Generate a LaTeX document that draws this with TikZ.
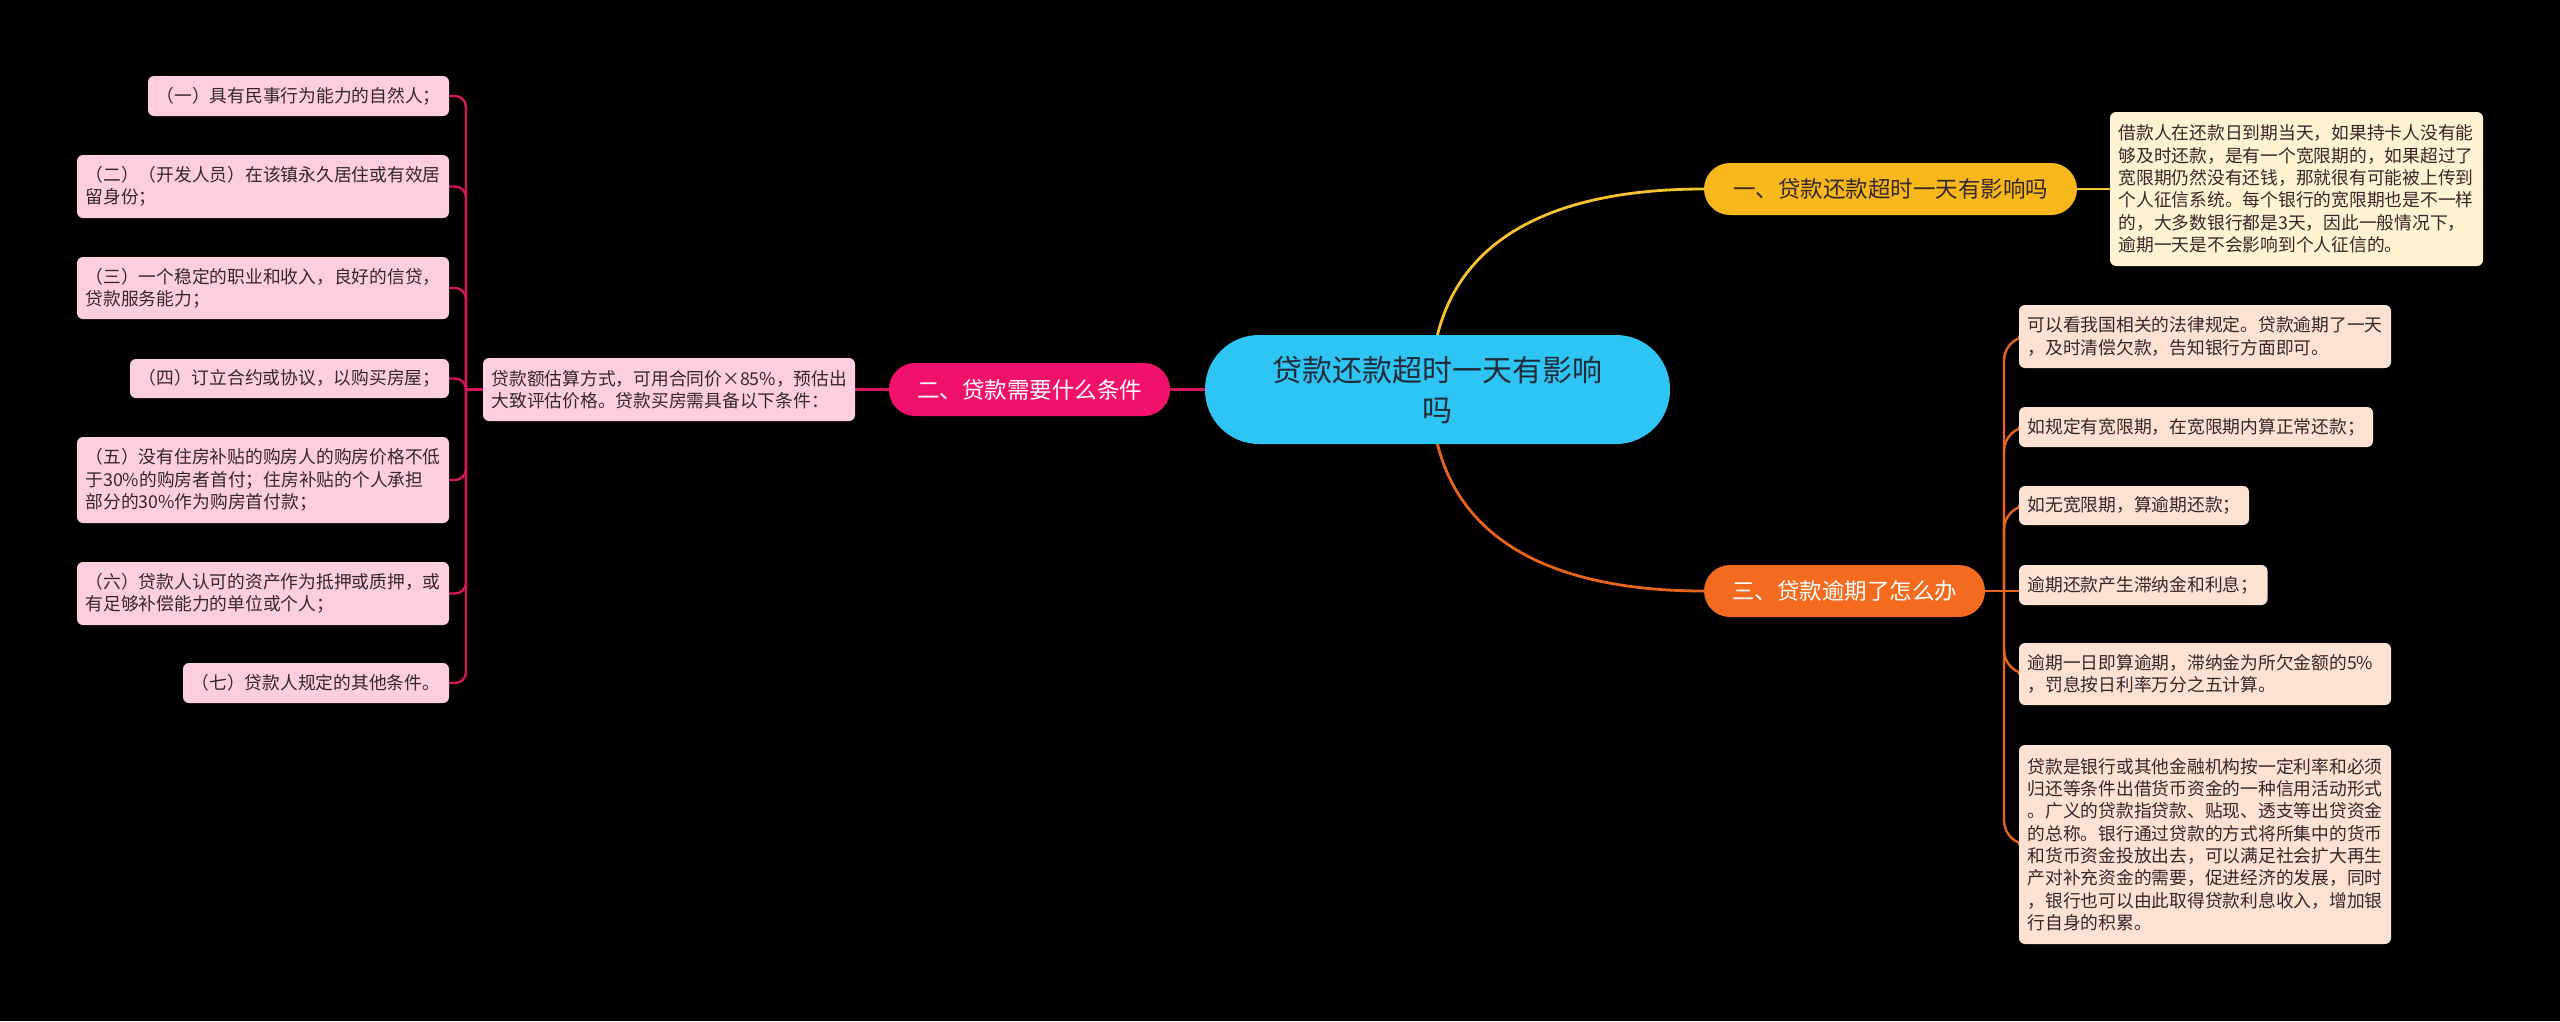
\documentclass[tikz,border=0pt]{standalone}
\usepackage{fontspec}
\newfontfamily\cjk{Noto Sans CJK SC}
\definecolor{bgc}{HTML}{000000}
\definecolor{centerc}{HTML}{2EC4F3}
\definecolor{centert}{HTML}{1E2B38}
\definecolor{yellowc}{HTML}{F8B71A}
\definecolor{yline}{HTML}{F6C22E}
\definecolor{yleafc}{HTML}{FEF2D3}
\definecolor{pinkc}{HTML}{F2116A}
\definecolor{pline}{HTML}{D8145F}
\definecolor{pleafc}{HTML}{FDCDE0}
\definecolor{orangec}{HTML}{F46A1F}
\definecolor{oline}{HTML}{E8641E}
\definecolor{oleafc}{HTML}{FDE1D3}
\definecolor{leaft}{HTML}{33282A}
\pgfdeclarelayer{bg}
\pgfdeclarelayer{lines}
\pgfsetlayers{bg,lines,main}
\begin{document}
\begin{tikzpicture}[x=1pt,y=-1pt,
  leafbase/.style={rectangle, rounded corners=6pt, inner xsep=8.5pt, inner ysep=0pt,
    align=left, text=leaft, font=\cjk\fontsize{17.75}{22.3}\selectfont},
  pleaf/.style={leafbase, fill=pleafc},
  yleaf/.style={leafbase, fill=yleafc},
  oleaf/.style={leafbase, fill=oleafc},
  branchbox/.style={rectangle, rounded corners=26pt, minimum height=52pt, inner sep=0pt,
    align=center, font=\cjk\fontsize{22.5}{28}\selectfont},
  conn/.style={line width=2.4pt, line cap=round},
  mainconn/.style={line width=2.8pt, line cap=round}]
\begin{pgfonlayer}{bg}
\fill[bgc] (0,0) rectangle (2560,1021);
\end{pgfonlayer}
\useasboundingbox (0,0) rectangle (2560,1021);

% center
\node[rectangle, rounded corners=54pt, fill=centerc, text=centert, minimum width=465pt,
  minimum height=109pt, inner sep=0pt, align=center, font=\cjk\fontsize{30}{40}\selectfont]
  (c) at (1437.5,389.5) {贷款还款超时一天有影响\\吗};

% branches
\node[branchbox, fill=yellowc, text=leaft, minimum width=373pt] (yb) at (1890.5,189) {一、贷款还款超时一天有影响吗};
\node[branchbox, fill=pinkc, text=white, minimum width=281pt, minimum height=53pt] (pb) at (1029.5,389.5) {二、贷款需要什么条件};
\node[branchbox, fill=orangec, text=white, minimum width=281pt] (ob) at (1844.5,591) {三、贷款逾期了怎么办};

% yellow leaf
\node[yleaf, text width=356pt, minimum height=154pt] (y1) at (2296.5,189) {借款人在还款日到期当天，如果持卡人没有能\\够及时还款，是有一个宽限期的，如果超过了\\宽限期仍然没有还钱，那就很有可能被上传到\\个人征信系统。每个银行的宽限期也是不一样\\的，大多数银行都是3天，因此一般情况下，\\逾期一天是不会影响到个人征信的。};

% pink intermediate
\node[pleaf, text width=355pt, minimum height=63pt] (pi) at (669,389.5) {贷款额估算方式，可用合同价×85\%，预估出\\大致评估价格。贷款买房需具备以下条件：};

% pink leaves
\node[pleaf, text width=284pt, minimum height=40pt] (p1) at (298.5,96) {（一）具有民事行为能力的自然人；};
\node[pleaf, text width=355pt, minimum height=63pt] (p2) at (263,186.5) {（二）（开发人员）在该镇永久居住或有效居\\留身份；};
\node[pleaf, text width=355pt, minimum height=62pt] (p3) at (263,288) {（三）一个稳定的职业和收入，良好的信贷，\\贷款服务能力；};
\node[pleaf, text width=302pt, minimum height=39pt] (p4) at (289.5,378.5) {（四）订立合约或协议，以购买房屋；};
\node[pleaf, text width=355pt, minimum height=86pt] (p5) at (263,480) {（五）没有住房补贴的购房人的购房价格不低\\于30\%的购房者首付；住房补贴的个人承担\\部分的30\%作为购房首付款；};
\node[pleaf, text width=355pt, minimum height=63pt] (p6) at (263,593.5) {（六）贷款人认可的资产作为抵押或质押，或\\有足够补偿能力的单位或个人；};
\node[pleaf, text width=249pt, minimum height=40pt] (p7) at (316,683) {（七）贷款人规定的其他条件。};

% orange leaves
\node[oleaf, text width=355pt, minimum height=63pt] (o1) at (2205,336.5) {可以看我国相关的法律规定。贷款逾期了一天\\，及时清偿欠款，告知银行方面即可。};
\node[oleaf, text width=337pt, minimum height=40pt] (o2) at (2196,427) {如规定有宽限期，在宽限期内算正常还款；};
\node[oleaf, text width=213pt, minimum height=39pt] (o3) at (2134,505.5) {如无宽限期，算逾期还款；};
\node[oleaf, text width=231.5pt, minimum height=40pt] (o4) at (2143.25,585) {逾期还款产生滞纳金和利息；};
\node[oleaf, text width=355pt, minimum height=62pt] (o5) at (2205,674) {逾期一日即算逾期，滞纳金为所欠金额的5\%\\，罚息按日利率万分之五计算。};
\node[oleaf, text width=355pt, minimum height=199pt] (o6) at (2205,844.5) {贷款是银行或其他金融机构按一定利率和必须\\归还等条件出借货币资金的一种信用活动形式\\。广义的贷款指贷款、贴现、透支等出贷资金\\的总称。银行通过贷款的方式将所集中的货币\\和货币资金投放出去，可以满足社会扩大再生\\产对补充资金的需要，促进经济的发展，同时\\，银行也可以由此取得贷款利息收入，增加银\\行自身的积累。};

\coordinate (pspine) at (466,389.5);
\coordinate (ospine) at (2004,591);

\begin{pgfonlayer}{lines}
% main curves
\draw[mainconn, yline] (c.north) .. controls +(25,-100) and +(-145,0) .. (yb.west);
\draw[mainconn, oline] (c.south) .. controls +(25,100) and +(-145,0) .. (ob.west);
\draw[mainconn, pline] (c.west) -- (pb.east);
% yellow
\draw[conn, yline] (yb.east) -- (y1.west);
% pink
\draw[conn, pline] (pb.west) -- (pi.east);
\draw[conn, pline] (pi.west) -- (pspine);
\foreach \n in {p1,p2,p3,p4,p5,p6,p7}
  \draw[conn, pline, rounded corners=11pt] (pspine) |- (\n.east);
% orange
\draw[conn, oline] (ob.east) -- (ospine);
\foreach \n in {o1,o2,o3,o5,o6}
  \draw[conn, oline, rounded corners=24pt] (ospine) |- (\n.west);
\draw[conn, oline] (ospine) -- (o4.west |- ospine);
\end{pgfonlayer}
\end{tikzpicture}
\end{document}
